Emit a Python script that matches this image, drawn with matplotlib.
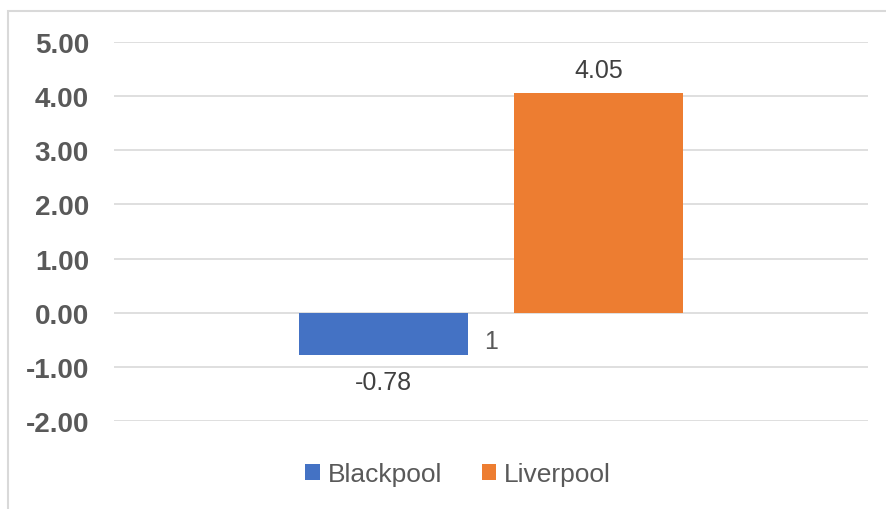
import matplotlib.pyplot as plt
from matplotlib.patches import Rectangle

""" Chart data """
series = ["Blackpool", "Liverpool"]
values = [-0.78, 4.05]
value_labels = ["-0.78", "4.05"]
category = "1"
colors = ["#4472C4", "#ED7D31"]
yticks = [-2, -1, 0, 1, 2, 3, 4, 5]

W, H = 887, 510
plt.rcParams['font.family'] = ['Liberation Sans', 'DejaVu Sans']
txt = "#595959"

fig = plt.figure(figsize=(W / 100, H / 100), dpi=100)
ax = fig.add_axes([114 / W, 1 - 422 / H, (868 - 114) / W, (422 - 43) / H])

""" Bars """
width = 0.224
offsets = [-0.1426, 0.1426]
for i in range(len(series)):
    ax.bar(offsets[i], values[i], width, color=colors[i], label=series[i], zorder=3)
    if values[i] < 0:
        ax.annotate(value_labels[i], (offsets[i], values[i]), xytext=(0, -11),
                    textcoords="offset points", ha="center", va="top",
                    fontsize=18, color="#404040")
    else:
        ax.annotate(value_labels[i], (offsets[i], values[i]), xytext=(0, 8),
                    textcoords="offset points", ha="center", va="bottom",
                    fontsize=18, color="#404040")

""" Axes styling """
ax.set_xlim(-0.5, 0.5)
ax.set_ylim(-2, 5)
ax.set_yticks(yticks)
ax.set_yticklabels(["%.2f" % v for v in yticks], fontsize=20, fontweight="bold", color=txt)
ax.tick_params(axis="y", length=0, pad=18)
ax.grid(axis="y", color="#D9D9D9", linewidth=1.2, zorder=0)
ax.spines['bottom'].set_position(('data', 0))
for s in ax.spines.values():
    s.set_visible(False)
ax.set_xticks([0])
ax.set_xticklabels([category], fontsize=18, color=txt)
ax.tick_params(axis="x", length=0, pad=12)

""" Chart border """
fig.patches.append(Rectangle((8 / W, -0.1), 1.2, 1 - 12 / H + 0.1, transform=fig.transFigure,
                             fill=False, edgecolor="#D9D9D9", linewidth=1.5))

""" Legend """
fig.legend(loc="center", bbox_to_anchor=(458 / W, 1 - 475 / H), ncol=2, frameon=False,
           fontsize=19, labelcolor=txt, handlelength=0.55, handleheight=0.55,
           handletextpad=0.3, columnspacing=1.5)

plt.savefig("out.png", dpi=100)
plt.close()
